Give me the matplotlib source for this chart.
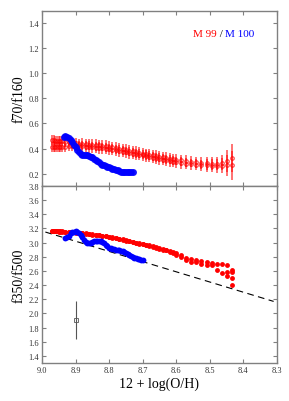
import numpy as np
import matplotlib
matplotlib.use("Agg")
import matplotlib.pyplot as plt

plt.rcParams['font.family'] = ['Liberation Serif', 'DejaVu Serif']

# M 99 radial bins (metallicity)
red_x = [8.97, 8.965, 8.96, 8.955, 8.95, 8.945, 8.94, 8.93, 8.92, 8.91, 8.90, 8.89,
         8.88, 8.87, 8.86, 8.85, 8.84, 8.83, 8.82, 8.81, 8.80, 8.79, 8.78, 8.77,
         8.76, 8.75, 8.74, 8.73, 8.72, 8.71, 8.70, 8.69, 8.68, 8.67, 8.66, 8.65,
         8.64, 8.63, 8.62, 8.61, 8.60, 8.585, 8.57, 8.555, 8.54, 8.525, 8.51,
         8.495, 8.48, 8.465, 8.45, 8.435]

# f70/f160, two rows
red_r1 = [0.465, 0.465, 0.463, 0.462, 0.46, 0.458, 0.457, 0.455, 0.45, 0.445, 0.442, 0.44,
          0.437, 0.435, 0.432, 0.43, 0.428, 0.425, 0.422, 0.42, 0.415, 0.41, 0.405, 0.40,
          0.395, 0.39, 0.383, 0.377, 0.372, 0.366, 0.36, 0.355, 0.35, 0.345, 0.34, 0.335,
          0.33, 0.325, 0.32, 0.315, 0.31, 0.305, 0.30, 0.295, 0.29, 0.285, 0.282,
          0.28, 0.28, 0.285, 0.30, 0.325]
red_r2 = [0.41, 0.41, 0.41, 0.41, 0.412, 0.413, 0.414, 0.415, 0.418, 0.42, 0.42, 0.42,
          0.418, 0.415, 0.413, 0.41, 0.408, 0.405, 0.402, 0.40, 0.395, 0.39, 0.385, 0.38,
          0.375, 0.37, 0.365, 0.36, 0.355, 0.35, 0.345, 0.34, 0.335, 0.328, 0.322, 0.316,
          0.31, 0.305, 0.30, 0.295, 0.29, 0.285, 0.28, 0.275, 0.27, 0.267, 0.265,
          0.263, 0.262, 0.262, 0.265, 0.265]
red_err = [0.04, 0.04, 0.04, 0.04, 0.04, 0.04, 0.04, 0.04, 0.04, 0.04, 0.04, 0.04,
           0.045, 0.045, 0.045, 0.045, 0.045, 0.045, 0.045, 0.045, 0.045, 0.045, 0.045, 0.045,
           0.045, 0.045, 0.045, 0.045, 0.045, 0.045, 0.045, 0.045, 0.045, 0.045, 0.045, 0.045,
           0.045, 0.045, 0.045, 0.045, 0.045, 0.045, 0.045, 0.045, 0.045, 0.045, 0.05,
           0.05, 0.055, 0.06, 0.085, 0.115]

# f350/f500, rows
red_s1 = [3.165, 3.165, 3.165, 3.165, 3.16, 3.16, 3.16, 3.155, 3.15, 3.15, 3.145, 3.14,
          3.135, 3.13, 3.125, 3.12, 3.115, 3.11, 3.10, 3.095, 3.085, 3.075, 3.065, 3.055,
          3.045, 3.035, 3.025, 3.01, 3.0, 2.99, 2.98, 2.97, 2.96, 2.95, 2.94, 2.925,
          2.91, 2.90, 2.885, 2.87, 2.85, 2.82, 2.79, 2.765, 2.75, 2.735, 2.72,
          2.71, 2.705, 2.70, 2.69, 2.61]
red_s2 = [3.16, 3.16, 3.16, 3.16, 3.155, 3.155, 3.155, 3.15, 3.145, 3.145, 3.14, 3.135,
          3.13, 3.125, 3.12, 3.115, 3.11, 3.105, 3.095, 3.09, 3.08, 3.07, 3.06, 3.05,
          3.04, 3.03, 3.02, 3.005, 2.995, 2.985, 2.975, 2.965, 2.955, 2.945, 2.93, 2.915,
          2.90, 2.89, 2.87, 2.855, 2.83, 2.80, 2.75, 2.73, 2.72, 2.70, 2.69,
          2.68, 2.61, 2.565, 2.59, 2.59]
red_extra_x = [8.45, 8.435, 8.435]
red_extra_y = [2.53, 2.50, 2.40]

# M 100
blue_x1 = [8.935, 8.93, 8.925, 8.92, 8.915, 8.91, 8.905, 8.90, 8.895, 8.89, 8.885, 8.88,
           8.875, 8.87, 8.865, 8.86, 8.855, 8.85, 8.845, 8.84, 8.835, 8.83, 8.825, 8.82,
           8.815, 8.81, 8.805, 8.80, 8.795, 8.79, 8.785, 8.78, 8.775, 8.77, 8.765, 8.76,
           8.755, 8.75, 8.745, 8.74, 8.735, 8.73]
blue_r = [0.49, 0.50, 0.495, 0.485, 0.47, 0.45, 0.43, 0.41, 0.39, 0.375, 0.36, 0.35,
          0.345, 0.345, 0.345, 0.34, 0.335, 0.33, 0.32, 0.31, 0.30, 0.29, 0.28, 0.27,
          0.265, 0.26, 0.255, 0.25, 0.245, 0.24, 0.235, 0.23, 0.225, 0.22, 0.215, 0.215,
          0.21, 0.21, 0.21, 0.21, 0.21, 0.215]

blue_x2 = [8.93, 8.925, 8.92, 8.915, 8.91, 8.905, 8.90, 8.895, 8.89, 8.885, 8.88, 8.875,
           8.87, 8.865, 8.86, 8.855, 8.85, 8.845, 8.84, 8.835, 8.83, 8.825, 8.82, 8.815,
           8.81, 8.805, 8.80, 8.795, 8.79, 8.785, 8.78, 8.775, 8.77, 8.765, 8.76, 8.755,
           8.75, 8.745, 8.74, 8.735, 8.73, 8.725, 8.72, 8.715, 8.71, 8.705, 8.70]
blue_s = [3.06, 3.08, 3.10, 3.13, 3.145, 3.155, 3.16, 3.155, 3.14, 3.11, 3.08, 3.04,
          3.01, 2.995, 2.995, 3.0, 3.01, 3.02, 3.025, 3.03, 3.03, 3.025, 3.01, 2.99,
          2.97, 2.95, 2.93, 2.92, 2.91, 2.905, 2.90, 2.895, 2.89, 2.885, 2.88, 2.87,
          2.855, 2.84, 2.83, 2.815, 2.80, 2.79, 2.78, 2.775, 2.77, 2.76, 2.75]

# fit line and typical error
fit_x = [8.99, 8.31]
fit_y = [3.15, 2.17]
err_x, err_y, err_e = 8.90, 1.91, 0.27

spine_col = '#808080'

fig = plt.figure(figsize=(2.89, 4.02), dpi=100)
ax1 = fig.add_axes([0.1453, 0.5348, 0.8132, 0.4354])
ax2 = fig.add_axes([0.1453, 0.0945, 0.8132, 0.4403], sharex=ax1)

for row in (red_r1, red_r2):
    ax1.errorbar(red_x, row, yerr=red_err, fmt='o', ms=2.5, color='red', mfc='none',
                 mew=0.9, elinewidth=1.1, alpha=0.7, capsize=0)
ax1.errorbar(blue_x1, blue_r, yerr=0.015, fmt='o', ms=4, color='blue', alpha=0.85,
             elinewidth=0.8, capsize=0)

t1 = ax1.text(8.55, 1.28, 'M 99', color='red', fontsize=8, va='bottom')
t2 = ax1.annotate(' / ', xy=(1, 0), xycoords=t1, color='black', fontsize=8,
                  va='bottom')
ax1.annotate('M 100', xy=(1, 0), xycoords=t2, color='blue', fontsize=8, va='bottom')

ax2.plot(fit_x, fit_y, color='black', lw=0.8, dashes=(6, 4))
for row in (red_s1, red_s2):
    ax2.plot(red_x, row, 'o', ms=3.5, color='red', mec='none')
ax2.plot(red_extra_x, red_extra_y, 'o', ms=3.5, color='red', mec='none')
ax2.plot(blue_x2, blue_s, 'o', ms=4.2, color='blue', mec='none')
ax2.errorbar([err_x], [err_y], yerr=err_e, fmt='s', ms=2.5, color='#555555',
             mfc='none', mew=0.6, elinewidth=0.8, capsize=0)

ax1.set_xlim(9.0, 8.3)
ax1.set_ylim(0.1, 1.5)
ax2.set_ylim(1.3, 3.8)
ax1.set_xticks([9.0, 8.9, 8.8, 8.7, 8.6, 8.5, 8.4, 8.3])
ax1.set_yticks([0.2, 0.4, 0.6, 0.8, 1.0, 1.2, 1.4])
ax2.set_yticks([1.4, 1.6, 1.8, 2.0, 2.2, 2.4, 2.6, 2.8, 3.0, 3.2, 3.4, 3.6, 3.8])
ax1.tick_params(labelbottom=False)

for ax in (ax1, ax2):
    ax.tick_params(direction='in', top=True, right=True, length=3, width=0.8,
                   color=spine_col, labelsize=6, labelcolor='#333333', pad=2)
    for sp in ax.spines.values():
        sp.set_color(spine_col)
        sp.set_linewidth(1.0)

ax1.set_ylabel('f70/f160', fontsize=10, labelpad=2)
ax2.set_ylabel('f350/f500', fontsize=10, labelpad=2)
ax2.set_xlabel('12 + log(O/H)', fontsize=10, labelpad=2)

fig.savefig('out.png', dpi=100)
